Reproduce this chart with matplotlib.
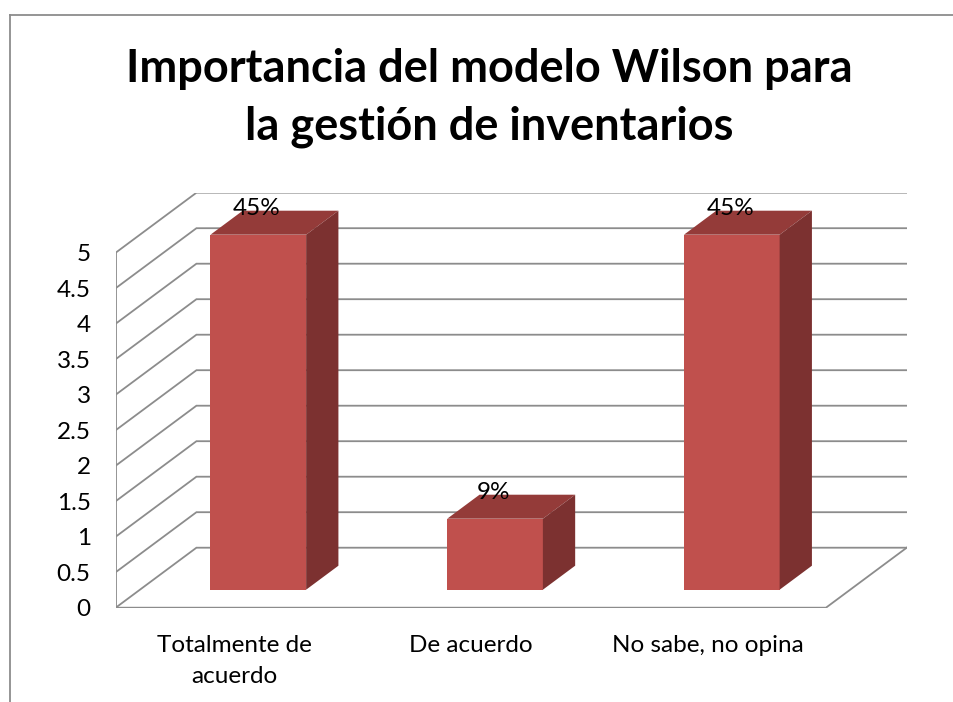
import matplotlib
matplotlib.use("Agg")
import matplotlib.pyplot as plt
from matplotlib.patches import Polygon
from matplotlib.lines import Line2D

plt.rcParams['font.family'] = ['Lato', 'DejaVu Sans']

# data
categories = ['Totalmente de\nacuerdo', 'De acuerdo', 'No sabe, no opina']
values = [5, 1, 5]
pct_labels = ['45%', '9%', '45%']
yticks = [0, 0.5, 1, 1.5, 2, 2.5, 3, 3.5, 4, 4.5, 5]
title_lines = ['Importancia del modelo Wilson para', 'la gestión de inventarios']

# 3d look
DX = 0.341      # depth offset in category units
DY = 0.845      # depth offset in value units
F0, F1 = 0.3, 0.7   # bar front / back depth fraction
BAR_W = 0.404
c_front = '#C0504D'
c_top = '#943B39'
c_side = '#7C3130'
c_grid = '#8C8C8C'
fs = 17.5

W, H = 954, 702
fig = plt.figure(figsize=(W / 100, H / 100), dpi=100)

# axes: left edge = front wall, bottom = front floor edge
ax = fig.add_axes([115.7 / W, (H - 607.7) / H, (906.7 - 115.7) / W, (607.7 - 192.7) / H])
ax.set_xlim(-0.5, 2.5 + DX)
ax.set_ylim(0, 5 + DY)
for s in ax.spines.values():
    s.set_visible(False)

x0, x1 = -0.5, len(categories) - 0.5

# walls and gridlines
for t in yticks:
    ax.plot([x0, x0 + DX, x1 + DX], [t, t + DY, t + DY], color=c_grid, lw=1.3,
            solid_joinstyle='miter', zorder=1)
ax.plot([x0, x0], [0, yticks[-1]], color=c_grid, lw=1.3, zorder=1)
ax.plot([x0, x1, x1 + DX], [0, 0, DY], color=c_grid, lw=1.3, zorder=1)

# bars
for i, v in enumerate(values):
    xl = i - BAR_W / 2 + F0 * DX
    xr = i + BAR_W / 2 + F0 * DX
    yb = F0 * DY
    d = F1 - F0
    front = Polygon([(xl, yb), (xr, yb), (xr, yb + v), (xl, yb + v)], closed=True,
                    fc=c_front, ec='none', zorder=3)
    top = Polygon([(xl, yb + v), (xr, yb + v), (xr + d * DX, yb + v + d * DY),
                   (xl + d * DX, yb + v + d * DY)], closed=True, fc=c_top, ec='none', zorder=3)
    side = Polygon([(xr, yb), (xr + d * DX, yb + d * DY), (xr + d * DX, yb + v + d * DY),
                    (xr, yb + v)], closed=True, fc=c_side, ec='none', zorder=3)
    for p in (front, top, side):
        ax.add_patch(p)
    ax.annotate(pct_labels[i], (i + F0 * DX, yb + v), xytext=(-1, 19), textcoords='offset points',
                ha='center', va='center', fontsize=fs, color='black', zorder=4)

ax.set_yticks(yticks)
ax.set_yticklabels(['%g' % t for t in yticks], fontsize=fs)
ax.set_xticks(range(len(categories)))
ax.set_xticklabels(categories, fontsize=fs, linespacing=1.58)
ax.tick_params(axis='y', length=0, pad=18)
ax.tick_params(axis='x', length=0, pad=19.5)

# title, one line at a time
fig.text(489.5 / W, 1 - 81.7 / H, title_lines[0], ha='center', va='baseline',
         fontsize=32.5, fontweight='bold')
fig.text(489.5 / W, 1 - 140 / H, title_lines[1], ha='center', va='baseline',
         fontsize=32.5, fontweight='bold')

# chart frame
fig.add_artist(Line2D([10 / W, 10 / W], [0, 1 - 15 / H], color='#8C8C8C', lw=1.3))
fig.add_artist(Line2D([10 / W, 1], [1 - 15 / H, 1 - 15 / H], color='#8C8C8C', lw=1.3))

fig.savefig('out.png', dpi=100)
